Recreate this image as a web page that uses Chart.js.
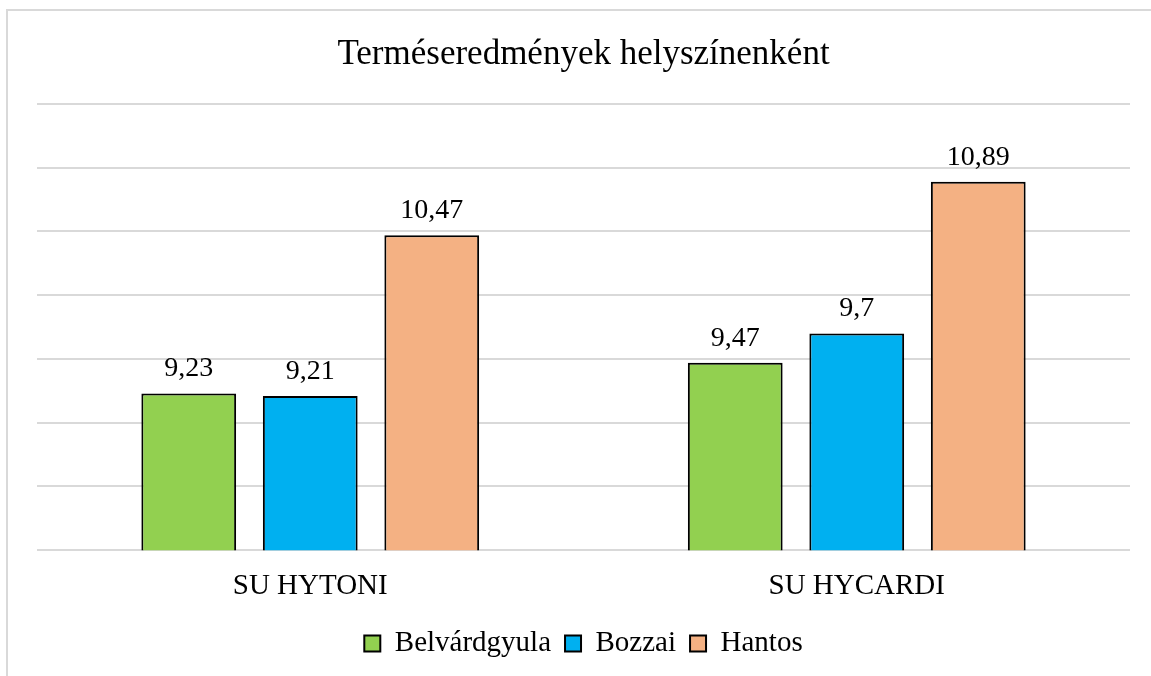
<!DOCTYPE html>
<html>
<head>
<meta charset="utf-8">
<script src="https://cdn.jsdelivr.net/npm/chart.js@4/dist/chart.umd.min.js"></script>
<style>
html,body{margin:0;padding:0;background:#fff;}
#wrap{position:relative;width:1151px;height:676px;}
</style>
</head>
<body>
<div id="wrap"><canvas id="c" width="1151" height="676"></canvas></div>
<script>
const categories = ["SU HYTONI", "SU HYCARDI"];
const belvardgyula = [9.23, 9.47];
const bozzai = [9.21, 9.7];
const hantos = [10.47, 10.89];
const seriesNames = ["Belvárdgyula", "Bozzai", "Hantos"];
const titleText = "Terméseredmények helyszínenként";

const FONT = "'Liberation Serif', 'Times New Roman', serif";

const frame = {
  id: 'frame',
  beforeDraw(chart) {
    const ctx = chart.ctx;
    ctx.save();
    ctx.fillStyle = '#fff';
    ctx.fillRect(0, 0, chart.width, chart.height);
    ctx.strokeStyle = '#d9d9d9';
    ctx.lineWidth = 2;
    ctx.beginPath();
    ctx.moveTo(7, chart.height);
    ctx.lineTo(7, 10);
    ctx.lineTo(chart.width, 10);
    ctx.stroke();
    ctx.restore();
  }
};

const labels = {
  id: 'valueLabels',
  afterDatasetsDraw(chart) {
    const ctx = chart.ctx;
    ctx.save();
    ctx.font = "28px " + FONT;
    ctx.fillStyle = '#000';
    ctx.textAlign = 'center';
    ctx.textBaseline = 'alphabetic';
    chart.data.datasets.forEach((ds, i) => {
      const meta = chart.getDatasetMeta(i);
      meta.data.forEach((bar, j) => {
        const txt = String(ds.data[j]).replace('.', ',');
        ctx.fillText(txt, bar.x, bar.y - 17);
      });
    });
    ctx.restore();
  }
};

new Chart(document.getElementById('c'), {
  type: 'bar',
  data: {
    labels: categories,
    datasets: [
      { label: seriesNames[0], data: belvardgyula, backgroundColor: '#92D050', borderColor: '#000', borderWidth: 2 },
      { label: seriesNames[1], data: bozzai, backgroundColor: '#00B0F0', borderColor: '#000', borderWidth: 2 },
      { label: seriesNames[2], data: hantos, backgroundColor: '#F4B183', borderColor: '#000', borderWidth: 2 }
    ]
  },
  options: {
    responsive: false,
    animation: false,
    devicePixelRatio: 1,
    layout: { padding: { left: 37, right: 21, top: 34, bottom: 8 } },
    datasets: { bar: { categoryPercentage: 0.667, barPercentage: 0.78 } },
    plugins: {
      title: {
        display: true,
        text: titleText,
        color: '#000',
        font: { family: FONT, size: 35, weight: 'normal' },
        padding: { top: 0, bottom: 28 }
      },
      legend: {
        position: 'bottom',
        labels: {
          color: '#000',
          font: { family: FONT, size: 29 },
          boxWidth: 16,
          boxHeight: 16,
          padding: 14
        }
      },
      tooltip: { enabled: false }
    },
    scales: {
      x: {
        grid: { display: false },
        border: { display: false },
        ticks: { color: '#000', font: { family: FONT, size: 29 }, padding: 11 }
      },
      y: {
        min: 8,
        max: 11.5,
        ticks: { display: false, stepSize: 0.5 },
        border: { display: false },
        grid: { color: '#d9d9d9', lineWidth: 2, drawTicks: false },
        afterFit(scale) { scale.width = 0; }
      }
    }
  },
  plugins: [frame, labels]
});
</script>
</body>
</html>
